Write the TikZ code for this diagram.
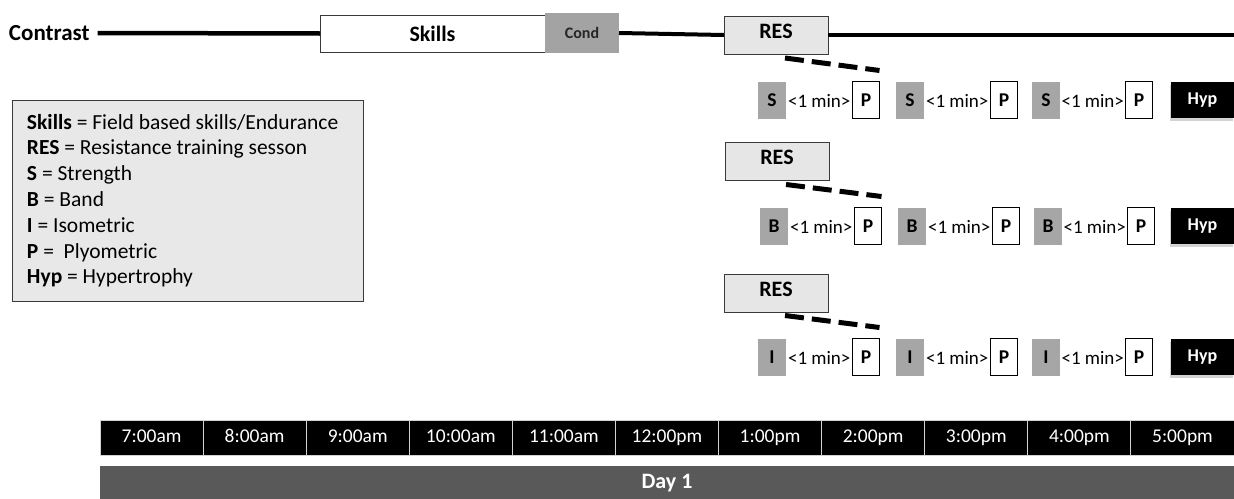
\documentclass[tikz,border=0pt]{standalone}
\usepackage{fontspec}
\setmainfont{Carlito}
\usetikzlibrary{shadows,calc}
\definecolor{resgray}{HTML}{E6E6E6}
\definecolor{legendgray}{HTML}{E8E8E8}
\definecolor{sgray}{HTML}{A6A6A6}
\definecolor{condgray}{HTML}{A3A3A3}
\definecolor{daygray}{HTML}{595959}
\definecolor{bordergray}{HTML}{3A3A3A}
\begin{document}
\begin{tikzpicture}[x=1pt,y=-1pt,
  every node/.style={inner sep=0pt, outer sep=0pt},
  skillsbox/.style={draw=bordergray, line width=1pt, fill=white, minimum width=225pt, minimum height=37pt, font=\fontsize{22}{24}\selectfont\bfseries},
  condbox/.style={fill=condgray, minimum width=74pt, minimum height=40pt, font=\fontsize{16}{18}\selectfont\bfseries, text=black!85},
  resbox/.style={draw=bordergray, line width=1pt, fill=resgray, minimum width=104pt, minimum height=38pt, text height=14pt, text depth=8pt, font=\fontsize{22}{24}\selectfont\bfseries},
  gbox/.style={fill=sgray, minimum width=28pt, minimum height=37pt, font=\fontsize{19.5}{21}\selectfont\bfseries},
  pbox/.style={draw=black, line width=1pt, fill=white, minimum width=27pt, minimum height=37pt, font=\fontsize{19.5}{21}\selectfont\bfseries},
  gaplabel/.style={font=\fontsize{19}{21}\selectfont},
  hypbox/.style={fill=black, text=white, minimum width=63pt, minimum height=36pt, font=\fontsize{18}{20}\selectfont\bfseries,
     drop shadow={shadow xshift=-1pt, shadow yshift=-3pt, opacity=0.35}},
  tline/.style={line width=#1, black},
  tline/.default=3.5pt,
  dashline/.style={line width=5pt, black, dash pattern=on 19pt off 8pt},
  timecell/.style={fill=black, draw=gray!35, line width=1pt, text=white, minimum width=103.09pt, minimum height=35pt, text height=13pt, text depth=4pt, font=\fontsize{19.5}{21}\selectfont},
  daybar/.style={fill=daygray, text=white, minimum width=1134pt, minimum height=34pt, font=\fontsize{22}{24}\selectfont\bfseries},
  legendbox/.style={draw=bordergray, line width=1pt, fill=legendgray, minimum width=351pt, minimum height=201pt}
]
\useasboundingbox (0,0) rectangle (1234,498);

% top timeline
\node[anchor=west, font=\fontsize{23}{25}\selectfont\bfseries] (contrast) at (9,33) {Contrast};
\node[skillsbox] (skills) at (432.5,33.5) {Skills};
\node[condbox] (cond) at (582,33) {Cond};
\node[resbox] (res1) at (776,35) {RES};
\coordinate (lineend) at (1234,35);
\draw[tline=4.5pt] ([xshift=8pt]contrast.east) -- (skills.west);
\draw[tline=4pt] (cond.east) -- (res1.west);
\draw[tline] (res1.east) -- (lineend);

% legend
\node[legendbox, anchor=north west] (legend) at (12,100) {};
\node[anchor=north west, align=left, font=\fontsize{21.5}{25.8}\selectfont] (legendtext) at (27,114) {%
\textbf{Skills} = Field based skills/Endurance\\
\textbf{RES} = Resistance training sesson\\
\textbf{S} = Strength\\
\textbf{B} = Band\\
\textbf{I} = Isometric\\
\textbf{P} =\ \ Plyometric\\
\textbf{Hyp} = Hypertrophy};

% rows
\node[resbox] (res2) at (777,161.5) {RES};
\node[resbox] (res3) at (776,293.5) {RES};

\foreach \r/\y/\L/\dx in {1/100/S/0, 2/226/B/2, 3/357/I/0}{
  \node[gbox] (g\r a) at (772+\dx,\y) {\L};
  \node[pbox] (p\r a) at (866+\dx,\y) {P};
  \node[gbox] (g\r b) at (910+\dx,\y) {\L};
  \node[pbox] (p\r b) at (1004+\dx,\y) {P};
  \node[gbox] (g\r c) at (1046+\dx,\y) {\L};
  \node[pbox] (p\r c) at (1139+\dx,\y) {P};
  \node[hypbox] (hyp\r) at (1202.5,\y) {Hyp};
  \node[gaplabel] at ($(g\r a.east)!0.5!(p\r a.west)+(0,1)$) {<1 min>};
  \node[gaplabel] at ($(g\r b.east)!0.5!(p\r b.west)+(0,1)$) {<1 min>};
  \node[gaplabel] at ($(g\r c.east)!0.5!(p\r c.west)+(0,1)$) {<1 min>};
}

\draw[dashline] ($(res1.south)+(9,4)$) -- ($(p1a.north east)+(0,-11)$);
\draw[dashline] ($(res2.south)+(9,4)$) -- ($(p2a.north east)+(0,-11)$);
\draw[dashline] ($(res3.south)+(9,3)$) -- ($(p3a.north east)+(0,-11)$);

% time bar
\foreach \t [count=\i from 0] in {7:00am,8:00am,9:00am,10:00am,11:00am,12:00pm,1:00pm,2:00pm,3:00pm,4:00pm,5:00pm}{
  \node[timecell] (t\i) at (151.545+103.09*\i,437.5) {\t};
}
\node[daybar] (day) at (667,483) {Day 1};
\end{tikzpicture}
\end{document}
